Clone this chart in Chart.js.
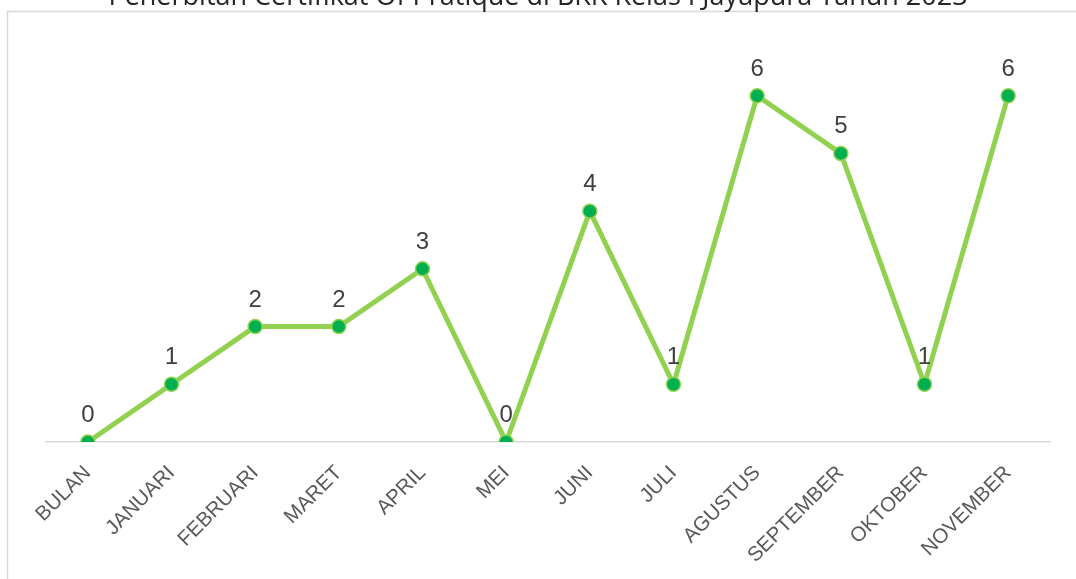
<html>
<head>
<meta charset="utf-8" />
<title>Penerbitan Certifikat Of Pratique</title>
<script src="https://cdn.jsdelivr.net/npm/chart.js@4.4.0/dist/chart.umd.min.js"></script>
<style>
  html, body { margin: 0; padding: 0; background: #fff; }
  #wrap { position: absolute; left: 0; top: 0; width: 1076px; height: 579px; }
</style>
</head>
<body>
<div id="wrap"><canvas id="grafik"></canvas></div>
<script>
const judul = 'Penerbitan Certifikat Of Pratique di BKK Kelas I Jayapura Tahun 2023';
const bulan = ['BULAN', 'JANUARI', 'FEBRUARI', 'MARET', 'APRIL', 'MEI', 'JUNI', 'JULI', 'AGUSTUS', 'SEPTEMBER', 'OKTOBER', 'NOVEMBER'];
const jumlah = [0, 1, 2, 2, 3, 0, 4, 1, 6, 5, 1, 6];

// kotak tepi + judul (judul terpotong di atas seperti aslinya)
const bingkai = {
  id: 'bingkai',
  beforeDraw(chart) {
    const c = chart.ctx;
    c.save();
    c.strokeStyle = '#d9d9d9';
    c.lineWidth = 1.5;
    c.strokeRect(7.5, 11.5, 1200, 700);
    c.restore();
  },
  afterDraw(chart) {
    const c = chart.ctx;
    c.save();
    c.fillStyle = '#262626';
    c.font = '27px "Open Sans"';
    c.textAlign = 'center';
    c.textBaseline = 'alphabetic';
    c.fillText(judul, 538, 5);
    c.restore();
  }
};

// label angka di atas titik
const labelAngka = {
  id: 'labelAngka',
  afterDatasetsDraw(chart) {
    const c = chart.ctx;
    const meta = chart.getDatasetMeta(0);
    c.save();
    c.fillStyle = '#404040';
    c.font = '24px "Liberation Sans", Arial';
    c.textAlign = 'center';
    c.textBaseline = 'alphabetic';
    meta.data.forEach((p, i) => {
      c.fillText(String(jumlah[i]), p.x, p.y - 20);
    });
    c.restore();
  }
};

new Chart(document.getElementById('grafik'), {
  type: 'line',
  data: {
    labels: bulan,
    datasets: [{
      data: jumlah,
      borderColor: '#92d050',
      borderWidth: 5,
      pointRadius: 7,
      pointBorderWidth: 1.5,
      pointBackgroundColor: '#00b050',
      pointBorderColor: '#92d050',
      tension: 0
    }]
  },
  options: {
    responsive: true,
    maintainAspectRatio: false,
    animation: false,
    layout: { padding: { left: 46, right: 26, top: 38, bottom: 0 } },
    plugins: {
      legend: { display: false },
      tooltip: { enabled: false }
    },
    scales: {
      x: {
        offset: true,
        grid: { display: false },
        border: { display: true, color: '#d9d9d9', width: 1.5 },
        ticks: {
          color: '#595959',
          font: { family: '"Liberation Sans", Arial', size: 20.5 },
          minRotation: 45,
          maxRotation: 45,
          padding: 11
        },
        afterFit(scale) { scale.height = 137; }
      },
      y: {
        display: false,
        min: 0,
        max: 7
      }
    }
  },
  plugins: [bingkai, labelAngka]
});
</script>
</body>
</html>
